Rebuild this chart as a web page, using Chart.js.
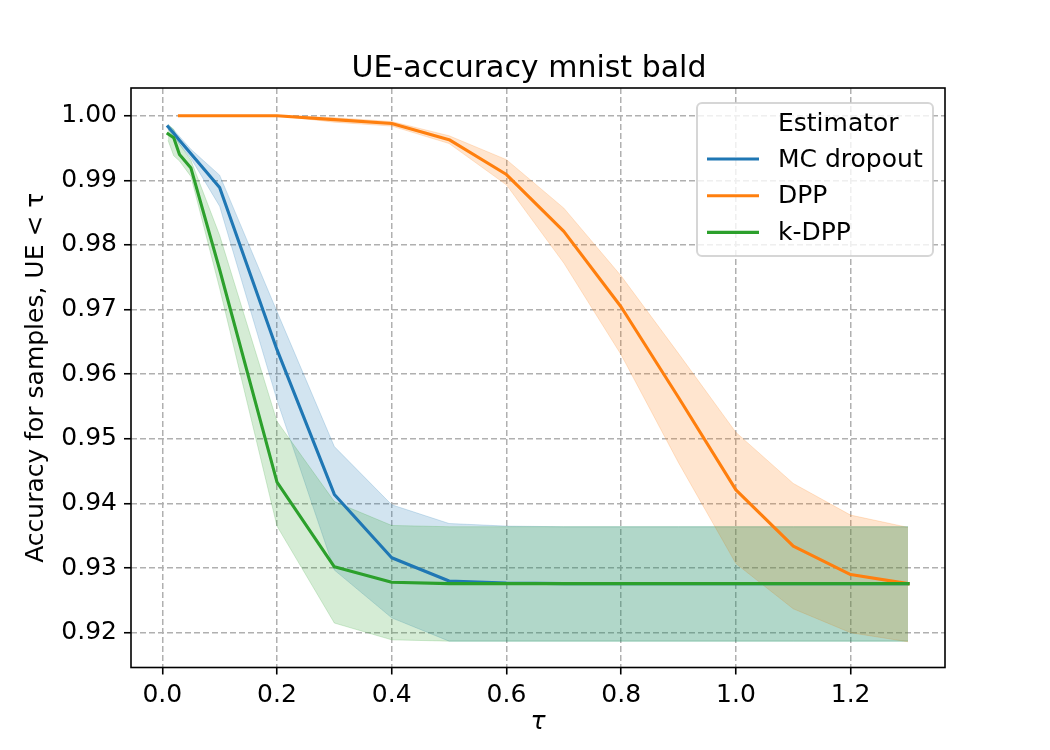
<!DOCTYPE html>
<html>
<head>
<meta charset="utf-8">
<script src="https://cdn.jsdelivr.net/npm/chart.js@4.4.1/dist/chart.umd.min.js"></script>
<style>
  body { margin: 0; background: #fff; }
  #wrap { width: 1050px; height: 750px; }
</style>
</head>
<body>
<div id="wrap"><canvas id="myChart" width="1050" height="750"></canvas></div>
<script>
const ctx = document.getElementById('myChart');

// tau thresholds (x)
const tau = [0.01, 0.02, 0.03, 0.05, 0.1, 0.2, 0.3, 0.4, 0.5, 0.6, 0.7, 0.8, 0.9, 1.0, 1.1, 1.2, 1.3];

// MC dropout: mean and band
const mcMean  = [0.9983, 0.9973, 0.9962, 0.9941, 0.9889, 0.9638, 0.9414, 0.9316, 0.9280, 0.9277, 0.9276, 0.9276, 0.9276, 0.9276, 0.9276, 0.9276, 0.9276];
const mcUpper = [0.9987, 0.9978, 0.9968, 0.9948, 0.9908, 0.9697, 0.9488, 0.9398, 0.9369, 0.9365, 0.9364, 0.9364, 0.9364, 0.9364, 0.9364, 0.9364, 0.9364];
const mcLower = [0.9979, 0.9968, 0.9956, 0.9934, 0.9860, 0.9560, 0.9297, 0.9223, 0.9187, 0.9187, 0.9187, 0.9187, 0.9187, 0.9187, 0.9187, 0.9187, 0.9187];

// DPP (no values for the two smallest tau)
const dppMean  = [null, null, 1.0, 1.0, 1.0, 1.0, 0.9994, 0.9988, 0.9963, 0.9909, 0.9821, 0.9704, 0.9564, 0.9421, 0.9334, 0.9290, 0.9276];
const dppUpper = [null, null, 1.0, 1.0, 1.0, 1.0, 0.9997, 0.9991, 0.9969, 0.9932, 0.9857, 0.9752, 0.9632, 0.9510, 0.9431, 0.9382, 0.9363];
const dppLower = [null, null, 1.0, 1.0, 1.0, 1.0, 0.9990, 0.9984, 0.9957, 0.9893, 0.9772, 0.9630, 0.9463, 0.9307, 0.9237, 0.9200, 0.9186];

// k-DPP
const kdppMean  = [0.9972, 0.9966, 0.9940, 0.9919, 0.9762, 0.9433, 0.9302, 0.9278, 0.9276, 0.9276, 0.9276, 0.9276, 0.9276, 0.9276, 0.9276, 0.9276, 0.9276];
const kdppUpper = [0.9986, 0.9979, 0.9956, 0.9931, 0.9815, 0.9527, 0.9403, 0.9366, 0.9364, 0.9364, 0.9364, 0.9364, 0.9364, 0.9364, 0.9364, 0.9364, 0.9364];
const kdppLower = [0.9962, 0.9938, 0.9930, 0.9906, 0.9733, 0.9365, 0.9215, 0.9189, 0.9187, 0.9187, 0.9187, 0.9187, 0.9187, 0.9187, 0.9187, 0.9187, 0.9187];

const xTicks = [0.0, 0.2, 0.4, 0.6, 0.8, 1.0, 1.2];
const yTicks = [0.92, 0.93, 0.94, 0.95, 0.96, 0.97, 0.98, 0.99, 1.00];

const seriesNames = ['MC dropout', 'DPP', 'k-DPP'];
const seriesColors = ['31, 119, 180', '255, 127, 14', '44, 160, 44'];

const FONT = 'DejaVu Sans';
const FS = 25;

// pair tau with a series, drop missing values
function pts(vals) {
  return tau.map((t, i) => ({ x: t, y: vals[i] })).filter((p) => p.y !== null);
}

function lineSet(label, vals, rgb, order) {
  return {
    label: label,
    data: pts(vals),
    borderColor: 'rgb(' + rgb + ')',
    borderWidth: 3.1,
    borderCapStyle: 'square',
    borderJoinStyle: 'round',
    pointRadius: 0,
    fill: false,
    order: order,
  };
}

function bandSet(vals, rgb, order, fill) {
  return {
    label: '',
    data: pts(vals),
    borderColor: 'rgba(' + rgb + ', 0.2)',
    backgroundColor: 'rgba(' + rgb + ', 0.2)',
    borderWidth: 1,
    pointRadius: 0,
    fill: fill,
    order: order,
  };
}

// title, legend box and full axes frame
const decorations = {
  id: 'decorations',
  afterDraw(chart) {
    const c = chart.ctx;
    const a = chart.chartArea;

    // legend
    c.save();
    c.fillStyle = 'rgba(255,255,255,0.8)';
    c.strokeStyle = 'rgba(204,204,204,0.8)';
    c.lineWidth = 2;
    c.beginPath();
    c.roundRect(697, 103, 236, 153, 5);
    c.fill();
    c.stroke();
    c.font = FS + 'px "' + FONT + '"';
    c.fillStyle = '#000';
    c.textAlign = 'left';
    c.textBaseline = 'middle';
    c.fillText('Estimator', 778, 124);
    seriesNames.forEach((name, i) => {
      const y = 159 + i * 36.7;
      c.strokeStyle = 'rgb(' + seriesColors[i] + ')';
      c.lineWidth = 3.1;
      c.beginPath();
      c.moveTo(707, y);
      c.lineTo(759, y);
      c.stroke();
      c.fillText(name, 778, y + 1);
    });
    c.restore();

    // frame
    c.save();
    c.strokeStyle = '#000';
    c.lineWidth = 1.6;
    c.strokeRect(a.left, a.top, a.right - a.left, a.bottom - a.top);

    // title
    c.font = '30px "' + FONT + '"';
    c.fillStyle = '#000';
    c.textAlign = 'center';
    c.textBaseline = 'alphabetic';
    c.fillText('UE-accuracy mnist bald', 529, 77);
    c.restore();
  },
};

const gridOpts = {
  color: '#b0b0b0',
  lineWidth: 1.5,
  tickLength: 7,
  tickColor: '#000',
  tickWidth: 1.6,
  tickBorderDash: [],
};

new Chart(ctx, {
  type: 'line',
  data: {
    datasets: [
      lineSet(seriesNames[0], mcMean, seriesColors[0], 3),
      lineSet(seriesNames[1], dppMean, seriesColors[1], 2),
      lineSet(seriesNames[2], kdppMean, seriesColors[2], 1),
      bandSet(mcUpper, seriesColors[0], 6, '+1'),
      bandSet(mcLower, seriesColors[0], 6, false),
      bandSet(dppUpper, seriesColors[1], 5, '+1'),
      bandSet(dppLower, seriesColors[1], 5, false),
      bandSet(kdppUpper, seriesColors[2], 4, '+1'),
      bandSet(kdppLower, seriesColors[2], 4, false),
    ],
  },
  plugins: [decorations],
  options: {
    responsive: false,
    animation: false,
    layout: {
      padding: { left: 0, right: 105, top: 88, bottom: 0 },
    },
    scales: {
      x: {
        type: 'linear',
        min: -0.0545,
        max: 1.3645,
        afterBuildTicks: (scale) => {
          scale.ticks = xTicks.map((v) => ({ value: v }));
        },
        afterFit: (scale) => {
          scale.height = 82.5;
        },
        ticks: {
          callback: (v) => v.toFixed(1),
          color: '#000',
          padding: 6,
          maxRotation: 0,
          font: { family: FONT, size: FS },
        },
        grid: gridOpts,
        border: { display: false, dash: [6, 3] },
        title: {
          display: true,
          text: 'τ',
          color: '#000',
          padding: { top: 0, bottom: 13 },
          font: { family: FONT, size: FS, style: 'italic' },
        },
      },
      y: {
        min: 0.91462,
        max: 1.00429,
        afterBuildTicks: (scale) => {
          scale.ticks = yTicks.map((v) => ({ value: v }));
        },
        afterFit: (scale) => {
          scale.width = 131;
        },
        ticks: {
          callback: (v) => v.toFixed(2),
          color: '#000',
          padding: 7,
          font: { family: FONT, size: FS },
        },
        grid: gridOpts,
        border: { display: false, dash: [6, 3] },
        title: {
          display: true,
          text: 'Accuracy for samples, UE < τ',
          color: '#000',
          padding: { top: 21, bottom: 0 },
          font: { family: FONT, size: FS },
        },
      },
    },
    plugins: {
      legend: { display: false },
      tooltip: { enabled: false },
    },
  },
});
</script>
</body>
</html>
